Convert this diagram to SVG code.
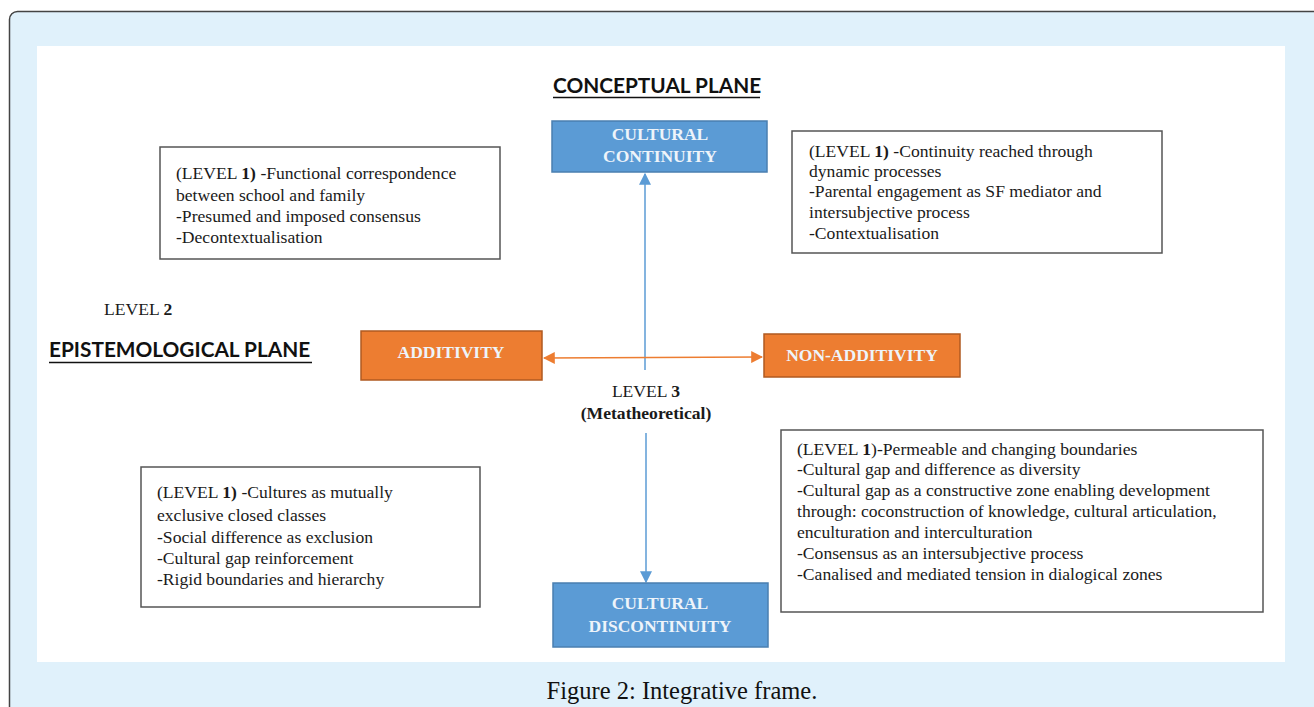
<svg xmlns="http://www.w3.org/2000/svg" width="1314" height="707" viewBox="0 0 1314 707">
<defs>
<style>
.t{font-family:"Liberation Serif","Times New Roman",serif;font-size:17.6px;fill:#1a1a1a}
.b{font-weight:bold}
.box{fill:#fff;stroke:#555;stroke-width:1.5}
.blue{fill:#5b9bd5;stroke:#4a7fb0;stroke-width:1.5}
.orange{fill:#ed7d31;stroke:#b05a20;stroke-width:1.5}
.lbl{font-family:"Liberation Serif","Times New Roman",serif;font-size:17.5px;font-weight:bold;fill:#eef4fa;text-anchor:middle}
.plane{font-family:Lato,"Open Sans",sans-serif;font-size:20.8px;font-weight:bold;fill:#111}
</style>
<marker id="ab" viewBox="0 0 10 10" refX="9" refY="5" markerWidth="12" markerHeight="12" markerUnits="userSpaceOnUse" orient="auto-start-reverse"><path d="M0,0 L10,5 L0,10 z" fill="#5b9bd5"/></marker>
<marker id="ao" viewBox="0 0 10 10" refX="9" refY="5" markerWidth="12" markerHeight="12" markerUnits="userSpaceOnUse" orient="auto-start-reverse"><path d="M0,0 L10,5 L0,10 z" fill="#ed7d31"/></marker>
</defs>
<rect x="0" y="0" width="1314" height="707" fill="#fff"/>
<rect x="9.5" y="11.5" width="1320" height="720" rx="8" fill="#e0f1fb" stroke="#444" stroke-width="1.5"/>
<rect x="37" y="46" width="1248" height="616" fill="#fff"/>
<text x="682" y="699" font-family="Liberation Serif, serif" font-size="24.5" fill="#111" text-anchor="middle">Figure 2: Integrative frame.</text>

<g id="connectors">
<line x1="645" y1="370" x2="645" y2="174" stroke="#5b9bd5" stroke-width="1.5" marker-end="url(#ab)"/>
<line x1="646" y1="433" x2="646" y2="582" stroke="#5b9bd5" stroke-width="1.5" marker-end="url(#ab)"/>
<line x1="544" y1="358" x2="762" y2="357" stroke="#ed7d31" stroke-width="1.5" marker-start="url(#ao)" marker-end="url(#ao)"/>
</g>

<g id="conceptual-plane">
<text class="plane" x="553" y="93">CONCEPTUAL PLANE</text>
<line x1="553" y1="97.5" x2="760" y2="97.5" stroke="#111" stroke-width="1.5"/>
</g>
<g id="epistemological-plane">
<text class="plane" x="49" y="357">EPISTEMOLOGICAL PLANE</text>
<line x1="49" y1="362.5" x2="312" y2="362.5" stroke="#111" stroke-width="1.5"/>
</g>
<g id="level2">
<text class="t" x="104" y="315">LEVEL <tspan class="b">2</tspan></text>
</g>
<g id="level3">
<text class="t" x="646" y="397" text-anchor="middle">LEVEL <tspan class="b">3</tspan></text>
<text class="t b" x="646" y="419" text-anchor="middle">(Metatheoretical)</text>
</g>

<g id="cultural-continuity">
<rect class="blue" x="552" y="121" width="215" height="51"/>
<text class="lbl" x="660" y="140">CULTURAL</text>
<text class="lbl" x="660" y="162">CONTINUITY</text>
</g>
<g id="cultural-discontinuity">
<rect class="blue" x="553" y="583" width="215" height="64"/>
<text class="lbl" x="660" y="609">CULTURAL</text>
<text class="lbl" x="660" y="632">DISCONTINUITY</text>
</g>
<g id="additivity">
<rect class="orange" x="361" y="331" width="181" height="49"/>
<text class="lbl" x="451" y="358">ADDITIVITY</text>
</g>
<g id="non-additivity">
<rect class="orange" x="764" y="334" width="196" height="43"/>
<text class="lbl" x="862" y="361">NON-ADDITIVITY</text>
</g>

<g id="box-top-left">
<rect class="box" x="160" y="147" width="340" height="112"/>
<text class="t" x="176" y="179">(LEVEL <tspan class="b">1) </tspan>-Functional correspondence</text>
<text class="t" x="176" y="201">between school and family</text>
<text class="t" x="176" y="222">-Presumed and imposed consensus</text>
<text class="t" x="176" y="243">-Decontextualisation</text>
</g>
<g id="box-top-right">
<rect class="box" x="792" y="131" width="370" height="122"/>
<text class="t" x="809" y="157">(LEVEL <tspan class="b">1)</tspan> -Continuity reached through</text>
<text class="t" x="809" y="177">dynamic processes</text>
<text class="t" x="809" y="197">-Parental engagement as SF mediator and</text>
<text class="t" x="809" y="218">intersubjective process</text>
<text class="t" x="809" y="239">-Contextualisation</text>
</g>
<g id="box-bottom-left">
<rect class="box" x="141" y="467" width="339" height="140"/>
<text class="t" x="157" y="498">(LEVEL <tspan class="b">1) </tspan>-Cultures as mutually</text>
<text class="t" x="157" y="521">exclusive closed classes</text>
<text class="t" x="157" y="543">-Social difference as exclusion</text>
<text class="t" x="157" y="564">-Cultural gap reinforcement</text>
<text class="t" x="157" y="585">-Rigid boundaries and hierarchy</text>
</g>
<g id="box-bottom-right">
<rect class="box" x="781" y="430" width="482" height="182"/>
<text class="t" x="797" y="455">(LEVEL <tspan class="b">1</tspan>)-Permeable and changing boundaries</text>
<text class="t" x="797" y="475">-Cultural gap and difference as diversity</text>
<text class="t" x="797" y="496">-Cultural gap as a constructive zone enabling development</text>
<text class="t" x="797" y="517">through: coconstruction of knowledge, cultural articulation,</text>
<text class="t" x="797" y="538">enculturation and interculturation</text>
<text class="t" x="797" y="559">-Consensus as an intersubjective process</text>
<text class="t" x="797" y="580">-Canalised and mediated tension in dialogical zones</text>
</g>
</svg>
